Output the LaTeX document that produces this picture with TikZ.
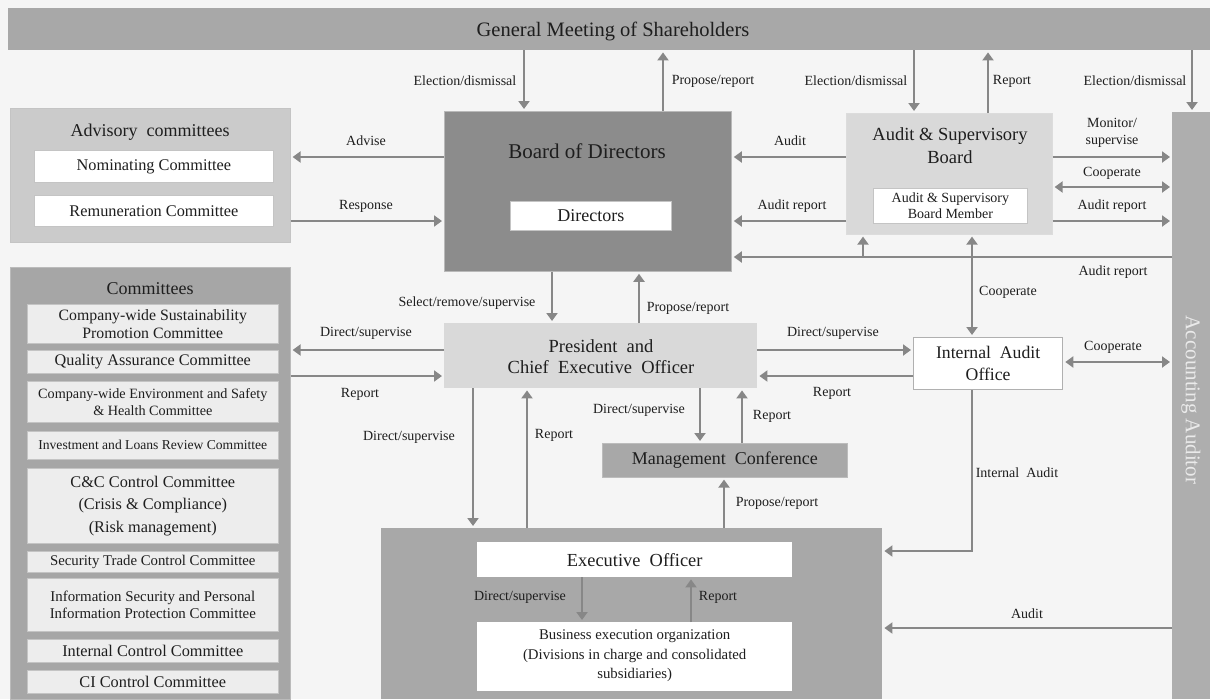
\documentclass[tikz,border=0pt]{standalone}
\usepackage{fontspec}
\setmainfont{Liberation Serif}
\usetikzlibrary{arrows.meta}
\definecolor{bgc}{HTML}{F5F5F5}
\definecolor{gmc}{HTML}{A8A8A8}
\definecolor{bodc}{HTML}{8C8C8C}
\definecolor{lightc}{HTML}{D9D9D9}
\definecolor{advc}{HTML}{CBCBCB}
\definecolor{panelc}{HTML}{A6A6A6}
\definecolor{innerc}{HTML}{EDEDED}
\definecolor{aac}{HTML}{AEAEAE}
\definecolor{aatext}{HTML}{EAEAEA}
\definecolor{arrc}{HTML}{878787}
\definecolor{edgec}{HTML}{C4C4C4}
\definecolor{txtc}{HTML}{1E1E1E}
\newcommand\myfs[2]{\fontsize{#1}{#2}\selectfont}
\begin{document}
\begin{tikzpicture}[x=1pt,y=-1pt,
  box/.style={rectangle, inner sep=0pt, anchor=north west},
  tbox/.style={rectangle, inner sep=0pt, anchor=north west, fill=white, draw=edgec, line width=0.8pt},
  cbox/.style={rectangle, inner sep=0pt, anchor=north west, fill=innerc, draw=edgec, line width=0.6pt, minimum width=251pt, align=center, text=txtc},
  arr/.style={draw=arrc, line width=2.8pt, shorten >=2pt, -{Triangle[length=8pt,width=11pt]}},
  darr/.style={draw=arrc, line width=2.8pt, shorten >=2pt, shorten <=2pt, {Triangle[length=8pt,width=11pt]}-{Triangle[length=8pt,width=11pt]}},
  plain/.style={draw=arrc, line width=2.8pt},
  lbl/.style={font=\myfs{14}{16}, inner sep=0pt, text=txtc, align=center},
  ttl/.style={inner sep=0pt, text=txtc, align=center}
]
\useasboundingbox (0,0) rectangle (1210,699);
\fill[bgc] (0,0) rectangle (1210,699);

% ---------- boxes ----------
\node[box, fill=gmc, minimum width=1202pt, minimum height=42pt] (gm) at (8,8) {};
\node[ttl, font=\myfs{20.5}{24}] (gmt) at (613,31) {General Meeting of Shareholders};

\node[box, fill=advc, draw=edgec, line width=0.6pt, minimum width=280pt, minimum height=134pt] (adv) at (10,108) {};
\node[ttl, font=\myfs{18}{22}] (advt) at (150,132) {Advisory\ \ committees};
\node[tbox, minimum width=239pt, minimum height=32pt] (nom) at (34,150) {};
\node[ttl, font=\myfs{16.3}{19}] at (nom.center) {Nominating Committee};
\node[tbox, minimum width=239pt, minimum height=31pt] (rem) at (34,195) {};
\node[ttl, font=\myfs{16.3}{19}] at (rem.center) {Remuneration Committee};

\node[box, fill=bodc, draw=edgec!80!bodc, line width=0.8pt, minimum width=287pt, minimum height=160pt] (bod) at (444,111) {};
\node[ttl, font=\myfs{21}{25}] (bodt) at (587,151) {Board of Directors};
\node[tbox, minimum width=161pt, minimum height=29pt] (dir) at (510,201) {};
\node[ttl, font=\myfs{18}{22}] at (dir.center) {Directors};

\node[box, fill=lightc, draw=edgec!60!white, line width=0.6pt, minimum width=206pt, minimum height=121pt] (asb) at (846,113) {};
\node[ttl, font=\myfs{18.5}{23}] (asbt) at (950,146) {Audit \& Supervisory\\Board};
\node[tbox, minimum width=154pt, minimum height=35pt] (asbm) at (873,188) {};
\node[ttl, font=\myfs{14}{16.5}] at (asbm.center) {Audit \& Supervisory\\Board Member};

\node[box, fill=aac, minimum width=38pt, minimum height=587pt] (aa) at (1172,112) {};
\node[ttl, rotate=-90, text=aatext, font=\myfs{21}{24}] (aat) at (1191,400) {Accounting Auditor};

\node[box, fill=panelc, draw=edgec!70!panelc, line width=0.6pt, minimum width=280pt, minimum height=432pt] (com) at (10,267) {};
\node[ttl, font=\myfs{18}{22}] (comt) at (150,289) {Committees};
\node[cbox, minimum height=39pt, font=\myfs{15.8}{18}] (c1) at (27,304) {Company-wide Sustainability\\Promotion Committee};
\node[cbox, minimum height=23pt, font=\myfs{16.2}{19}] (c2) at (27,350) {Quality Assurance Committee};
\node[cbox, minimum height=41pt, font=\myfs{14.2}{17}] (c3) at (27,381) {Company-wide Environment and Safety\\\& Health Committee};
\node[cbox, minimum height=28pt, font=\myfs{13.6}{16}] (c4) at (27,431) {Investment and Loans Review Committee};
\node[cbox, minimum height=75pt, font=\myfs{16.3}{22.5}] (c5) at (27,468) {C\&C Control Committee\\(Crisis \& Compliance)\\(Risk management)};
\node[cbox, minimum height=21pt, font=\myfs{14.8}{17}] (c6) at (27,551) {Security Trade Control Committee};
\node[cbox, minimum height=53pt, font=\myfs{14.9}{17.5}] (c7) at (27,578) {Information Security and Personal\\Information Protection Committee};
\node[cbox, minimum height=23pt, font=\myfs{16.3}{19}] (c8) at (27,639) {Internal Control Committee};
\node[cbox, minimum height=23pt, font=\myfs{16.3}{19}] (c9) at (27,670) {CI Control Committee};

\node[box, fill=lightc, minimum width=313pt, minimum height=65pt] (pres) at (444,323) {};
\node[ttl, font=\myfs{18.5}{21}] (prest) at (601,357) {President\ \ and\\Chief\ \ Executive\ \ Officer};

\node[box, fill=gmc, draw=edgec!70!gmc, line width=0.6pt, minimum width=245pt, minimum height=34pt] (mc) at (602,443) {};
\node[ttl, font=\myfs{18}{22}] at (mc.center) {Management\ \ Conference};

\node[tbox, draw=edgec!90!black, line width=1.3pt, minimum width=149pt, minimum height=52pt] (iao) at (913,337) {};
\node[ttl, font=\myfs{17.7}{22}] at (iao.center) {Internal\ \ Audit\\Office};

\node[box, fill=gmc, minimum width=501pt, minimum height=171pt] (exo) at (381,528) {};
\node[box, fill=white, minimum width=315pt, minimum height=35pt] (eo) at (477,542) {};
\node[ttl, font=\myfs{18.4}{22}] at (eo.center) {Executive\ \ Officer};
\node[box, fill=white, minimum width=315pt, minimum height=69pt] (beo) at (477,622) {};
\node[ttl, font=\myfs{14.8}{19.5}] at ([yshift=1pt]beo.center) {Business execution organization\\(Divisions in charge and consolidated\\subsidiaries)};

% ---------- helper coordinates ----------
\coordinate (xa) at (524,0);
\coordinate (xb) at (663,0);
\coordinate (xc) at (914,0);
\coordinate (xd) at (988,0);
\coordinate (xe) at (1192,0);
\coordinate (xf) at (863,0);
\coordinate (xg) at (972,0);
\coordinate (xh) at (552,0);
\coordinate (xi) at (639,0);
\coordinate (xj) at (473,0);
\coordinate (xk) at (527,0);
\coordinate (xl) at (700,0);
\coordinate (xm) at (742,0);
\coordinate (xn) at (724,0);
\coordinate (xo) at (582,0);
\coordinate (xp) at (691,0);
\coordinate (ya) at (0,157);
\coordinate (yb) at (0,221);
\coordinate (yc) at (0,187);
\coordinate (yd) at (0,257);
\coordinate (ye) at (0,350);
\coordinate (yf) at (0,376);
\coordinate (yg) at (0,362);
\coordinate (yh) at (0,551);
\coordinate (yi) at (0,628);

% ---------- top connectors ----------
\draw[arr] (gm.south -| xa) -- (bod.north -| xa);
\node[lbl] (l1) at (465,81) {Election/dismissal};
\draw[arr] (bod.north -| xb) -- (gm.south -| xb);
\node[lbl] (l2) at (713,81) {Propose/report};
\draw[arr] (gm.south -| xc) -- (asb.north -| xc);
\node[lbl] (l3) at (856,81) {Election/dismissal};
\draw[arr] (asb.north -| xd) -- (gm.south -| xd);
\node[lbl] (l4) at (1012,81) {Report};
\draw[arr] (gm.south -| xe) -- (aa.north -| xe);
\node[lbl] (l5) at (1135,81) {Election/dismissal};

% ---------- board level ----------
\draw[arr] (bod.west |- ya) -- (adv.east |- ya);
\node[lbl] (l6) at (366,141) {Advise};
\draw[arr] (adv.east |- yb) -- (bod.west |- yb);
\node[lbl] (l7) at (366,206) {Response};
\draw[arr] (asb.west |- ya) -- (bod.east |- ya);
\node[lbl] (l8) at (790,141) {Audit};
\draw[arr] (asb.west |- yb) -- (bod.east |- yb);
\node[lbl] (l9) at (792,206) {Audit report};
\draw[arr] (asb.east |- ya) -- (aa.west |- ya);
\node[lbl, font=\myfs{14}{16.5}] (l10) at (1112,133) {Monitor/\\supervise};
\draw[darr] (asb.east |- yc) -- (aa.west |- yc);
\node[lbl] (l11) at (1112,173) {Cooperate};
\draw[arr] (asb.east |- yb) -- (aa.west |- yb);
\node[lbl] (l12) at (1112,206) {Audit report};
\draw[arr] (aa.west |- yd) -- (bod.east |- yd);
\draw[arr] (yd -| xf) -- (asb.south -| xf);
\node[lbl] (l13) at (1113,272) {Audit report};
\draw[darr] (asb.south -| xg) -- (iao.north -| xg);
\node[lbl] (l14) at (1008,292) {Cooperate};

% ---------- president level ----------
\draw[arr] (bod.south -| xh) -- (pres.north -| xh);
\node[lbl] (l15) at (467,303) {Select/remove/supervise};
\draw[arr] (pres.north -| xi) -- (bod.south -| xi);
\node[lbl] (l16) at (688,308) {Propose/report};
\draw[arr] (pres.west |- ye) -- (com.east |- ye);
\node[lbl] (l17) at (366,333) {Direct/supervise};
\draw[arr] (com.east |- yf) -- (pres.west |- yf);
\node[lbl] (l18) at (360,394) {Report};
\draw[arr] (pres.east |- ye) -- (iao.west |- ye);
\node[lbl] (l19) at (833,333) {Direct/supervise};
\draw[arr] (iao.west |- yf) -- (pres.east |- yf);
\node[lbl] (l20) at (832,393) {Report};
\draw[darr] (iao.east |- yg) -- (aa.west |- yg);
\node[lbl] (l21) at (1113,347) {Cooperate};

% ---------- lower part ----------
\draw[arr] (pres.south -| xj) -- (exo.north -| xj);
\node[lbl] (l22) at (409,437) {Direct/supervise};
\draw[arr] (exo.north -| xk) -- (pres.south -| xk);
\node[lbl] (l23) at (554,435) {Report};
\draw[arr] (pres.south -| xl) -- (mc.north -| xl);
\node[lbl] (l24) at (639,410) {Direct/supervise};
\draw[arr] (mc.north -| xm) -- (pres.south -| xm);
\node[lbl] (l25) at (772,416) {Report};
\draw[arr] (exo.north -| xn) -- (mc.south -| xn);
\node[lbl] (l26) at (777,503) {Propose/report};
\draw[arr] (iao.south -| xg) |- (exo.east |- yh);
\node[lbl] (l27) at (1017,473) {Internal\ \ Audit};
\draw[arr] (aa.west |- yi) -- (exo.east |- yi);
\node[lbl] (l28) at (1027,614) {Audit};
\draw[arr] (eo.south -| xo) -- (beo.north -| xo);
\node[lbl] (l29) at (520,597) {Direct/supervise};
\draw[arr] (beo.north -| xp) -- (eo.south -| xp);
\node[lbl] (l30) at (718,597) {Report};
\end{tikzpicture}
\end{document}
